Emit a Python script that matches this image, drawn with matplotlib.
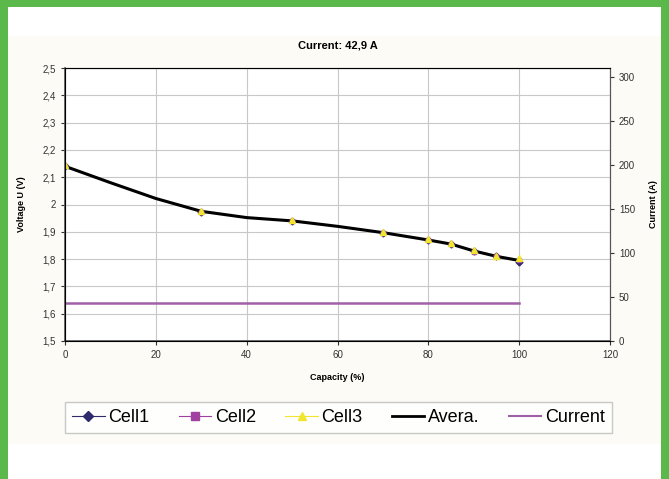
import matplotlib
matplotlib.use('Agg')
import matplotlib.pyplot as plt
from matplotlib.patches import Rectangle
from matplotlib.lines import Line2D

plt.rcParams['font.family'] = ['Liberation Sans', 'DejaVu Sans']

# data
cell_x = [0, 30, 50, 70, 80, 85, 90, 95, 100]
cell1 = [2.14, 1.972, 1.94, 1.897, 1.87, 1.855, 1.828, 1.81, 1.79]
cell2 = [2.14, 1.972, 1.94, 1.897, 1.87, 1.855, 1.826, 1.81, 1.795]
cell3 = [2.143, 1.975, 1.942, 1.9, 1.873, 1.858, 1.835, 1.813, 1.803]
avg_x = [0, 10, 20, 30, 40, 50, 60, 70, 80, 85, 90, 95, 100]
avg = [2.14, 2.08, 2.022, 1.975, 1.952, 1.94, 1.92, 1.897, 1.87, 1.855, 1.83, 1.81, 1.795]
cur_x = [0, 100]
current = [42.9, 42.9]

fig = plt.figure(figsize=(6.69, 4.79), dpi=100)
fig.patch.set_facecolor('white')

# green frame and off-white chart area
W, H = 669, 479
def px(x, y, w, h):
    return (x / W, 1 - (y + h) / H), w / W, h / H
green = '#5BB84A'
for (x, y, w, h) in [(0, 0, 669, 7), (0, 0, 8, 479), (661, 0, 8, 479)]:
    xy, w2, h2 = px(x, y, w, h)
    fig.patches.append(Rectangle(xy, w2, h2, transform=fig.transFigure,
                                 facecolor=green, edgecolor='none', zorder=-5))
xy, w2, h2 = px(8, 36, 653, 408)
fig.patches.append(Rectangle(xy, w2, h2, transform=fig.transFigure,
                             facecolor='#FCFBF6', edgecolor='none', zorder=-5))

ax = fig.add_axes([65 / W, 1 - 341 / H, 545 / W, 273 / H])
ax.set_facecolor('white')
ax.grid(True, color='#C8C8C8', linewidth=0.8)
ax.set_axisbelow(True)

ax.plot(avg_x, avg, color='black', linewidth=2.2, zorder=3)
ax.plot(cell_x, cell1, color='#2E2A6B', linestyle='none', marker='D', markersize=3.5, zorder=4)
ax.plot(cell_x, cell2, color='#A040A0', linestyle='none', marker='s', markersize=3.5, zorder=4)
ax.plot(cell_x, cell3, color='#F2E530', linestyle='none', marker='^', markersize=4.5, zorder=5)

ax.set_xlim(0, 120)
ax.set_ylim(1.5, 2.5)
ax.set_xticks(range(0, 121, 20))
yt = [1.5 + 0.1 * i for i in range(11)]
ax.set_yticks(yt)
ax.set_yticklabels([('%g' % round(v, 1)).replace('.', ',') for v in yt])
ax.tick_params(labelsize=7, colors='#333333', length=3)
for s in ['left', 'bottom']:
    ax.spines[s].set_color('#555555')
    ax.spines[s].set_linewidth(1.2)
for s in ['top', 'right']:
    ax.spines[s].set_color('#666666')
ax.set_xlabel('Capacity (%)', fontsize=6.5, fontweight='bold', labelpad=9)
ax.set_ylabel('Voltage U (V)', fontsize=6.5, fontweight='bold', labelpad=12)
ax.set_title('Current: 42,9 A', fontsize=8, fontweight='bold', pad=14)

ax2 = ax.twinx()
ax2.plot(cur_x, current, color='#A060A8', linewidth=1.8, zorder=2)
ax2.set_ylim(0, 310)
ax2.set_yticks(range(0, 301, 50))
ax2.tick_params(labelsize=7, colors='#333333', length=3)
ax2.spines['right'].set_color('#555555')
ax2.set_ylabel('Current (A)', fontsize=6.5, fontweight='bold', labelpad=10)

handles = [
    Line2D([], [], color='#2E2A6B', linewidth=0.8, marker='D', markersize=5),
    Line2D([], [], color='#A040A0', linewidth=0.8, marker='s', markersize=6),
    Line2D([], [], color='#F2E530', linewidth=0.8, marker='^', markersize=6),
    Line2D([], [], color='black', linewidth=2),
    Line2D([], [], color='#A060A8', linewidth=1.5),
]
labels = ['Cell1', 'Cell2', 'Cell3', 'Avera.', 'Current']
bxy, bw, bh = px(65, 397, 547, 41)
leg = fig.legend(handles, labels, loc='center', ncol=5,
                 bbox_to_anchor=(bxy[0], bxy[1], bw, bh), mode='expand',
                 fontsize=13, frameon=True, fancybox=False, handlelength=1.8,
                 handletextpad=0.2, columnspacing=0.8, borderaxespad=0)
leg.get_frame().set_edgecolor('#BBBBBB')
leg.get_frame().set_linewidth(1)

fig.savefig('out.png', dpi=100)
